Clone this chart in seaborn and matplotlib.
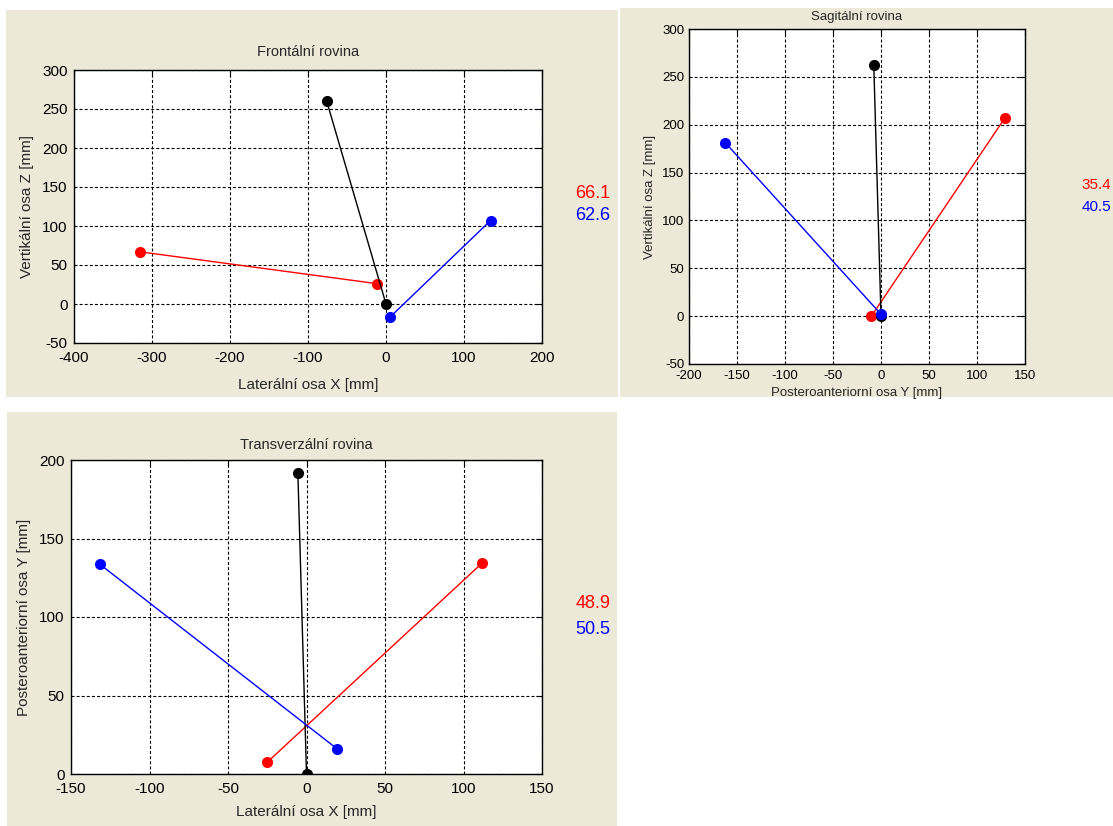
import matplotlib
matplotlib.use("Agg")
import matplotlib.pyplot as plt
from matplotlib.patches import Rectangle
import seaborn as sns
import pandas as pd

sns.set_style("white")
plt.rcParams['font.family'] = ['Liberation Sans', 'DejaVu Sans']

# ---------------- data ----------------
# Frontal plane (X vs Z)
front_red_x = [-316, -11]
front_red_z = [67, 26]
front_black_x = [-76, 0]
front_black_z = [260, 0]
front_blue_x = [5, 134]
front_blue_z = [-17, 107]
front_vals = ["66.1", "62.6"]

# Sagittal plane (Y vs Z)
sag_red_y = [129, -10]
sag_red_z = [207, 0]
sag_black_y = [-7.5, 0]
sag_black_z = [262, 0]
sag_blue_y = [-162, 0]
sag_blue_z = [181, 2]
sag_vals = ["35.4", "40.5"]

# Transverse plane (X vs Y)
trans_red_x = [112, -25]
trans_red_y = [134.5, 7.5]
trans_black_x = [-5.5, 0]
trans_black_y = [192, 0]
trans_blue_x = [-131.5, 19.5]
trans_blue_y = [133.5, 16]
trans_vals = ["48.9", "50.5"]

W, H = 1113, 826
BEIGE = "#ECE9D8"
fig = plt.figure(figsize=(W / 100, H / 100), dpi=100)
fig.patch.set_facecolor("white")


def fig_rect(x0, y0, x1, y1):
    fig.patches.append(Rectangle((x0 / W, 1 - y1 / H), (x1 - x0) / W, (y1 - y0) / H,
                                 transform=fig.transFigure, facecolor=BEIGE,
                                 edgecolor="none", zorder=-10))


def make_axes(left, top, right, bottom):
    return fig.add_axes([left / W, 1 - bottom / H, (right - left) / W, (bottom - top) / H])


fig_rect(6, 10, 618, 397)
fig_rect(620, 8, 1113, 397)
fig_rect(7, 412, 617, 826)


def draw_segment(ax, xs, ys, color, lw=1.0):
    df = pd.DataFrame({"x": xs, "y": ys})
    sns.lineplot(data=df, x="x", y="y", ax=ax, sort=False, estimator=None,
                 color=color, lw=lw, marker="o", markersize=8,
                 markeredgewidth=0, markerfacecolor=color, zorder=3)


def style_axes(ax, xlim, ylim, xticks, yticks, fs, xpad, ypad):
    ax.set_xlim(*xlim)
    ax.set_ylim(*ylim)
    ax.set_xticks(xticks)
    ax.set_yticks(yticks)
    ax.set_xticklabels([str(t) for t in xticks], fontsize=fs)
    ax.set_yticklabels([str(t) for t in yticks], fontsize=fs)
    ax.grid(True, color="black", linestyle=(0, (2.7, 1.9)), linewidth=0.8)
    ax.set_axisbelow(True)
    ax.tick_params(direction="in", length=4, width=0.8, top=True, right=True,
                   colors="black")
    ax.tick_params(axis="x", pad=xpad)
    ax.tick_params(axis="y", pad=ypad)
    for s in ax.spines.values():
        s.set_color("black")
        s.set_linewidth(1.0)
    ax.set_facecolor("white")


# -------- Panel 1: frontal --------
ax1 = make_axes(74, 70, 542, 343)
draw_segment(ax1, front_red_x, front_red_z, "#ff0000")
draw_segment(ax1, front_black_x, front_black_z, "black")
draw_segment(ax1, front_blue_x, front_blue_z, "#0000ff")
style_axes(ax1, (-400, 200), (-50, 300), list(range(-400, 201, 100)),
           list(range(-50, 301, 50)), 11, 6, 4.5)
ax1.set_title("Frontální rovina", fontsize=10.5, pad=10)
ax1.set_xlabel("Laterální osa X [mm]", fontsize=11, labelpad=9)
ax1.set_ylabel("Vertikální osa Z [mm]", fontsize=11, labelpad=6)
fig.text(593 / W, 1 - 193 / H, front_vals[0], color="#ff0000", fontsize=13,
         ha="center", va="center")
fig.text(593 / W, 1 - 215 / H, front_vals[1], color="#0000ff", fontsize=13,
         ha="center", va="center")

# -------- Panel 2: sagittal --------
ax2 = make_axes(689, 29, 1025, 364)
draw_segment(ax2, sag_red_y, sag_red_z, "#ff0000")
draw_segment(ax2, sag_black_y, sag_black_z, "black")
draw_segment(ax2, sag_blue_y, sag_blue_z, "#0000ff")
style_axes(ax2, (-200, 150), (-50, 300), list(range(-200, 151, 50)),
           list(range(-50, 301, 50)), 9.5, 4.5, 3.5)
ax2.set_title("Sagitální rovina", fontsize=9.5, pad=6.5)
ax2.set_xlabel("Posteroanteriorní osa Y [mm]", fontsize=9.5, labelpad=3.5)
ax2.set_ylabel("Vertikální osa Z [mm]", fontsize=9.5, labelpad=4)
fig.text(1096 / W, 1 - 185 / H, sag_vals[0], color="#ff0000", fontsize=11,
         ha="center", va="center")
fig.text(1096 / W, 1 - 207 / H, sag_vals[1], color="#0000ff", fontsize=11,
         ha="center", va="center")

# -------- Panel 3: transverse --------
ax3 = make_axes(71, 460, 542, 774)
draw_segment(ax3, trans_red_x, trans_red_y, "#ff0000")
draw_segment(ax3, trans_black_x, trans_black_y, "black")
draw_segment(ax3, trans_blue_x, trans_blue_y, "#0000ff")
style_axes(ax3, (-150, 150), (0, 200), list(range(-150, 151, 50)),
           list(range(0, 201, 50)), 11, 5.5, 4.5)
ax3.set_title("Transverzální rovina", fontsize=10.5, pad=8)
ax3.set_xlabel("Laterální osa X [mm]", fontsize=11, labelpad=7)
ax3.set_ylabel("Posteroanteriorní osa Y [mm]", fontsize=11, labelpad=6)
fig.text(593 / W, 1 - 604 / H, trans_vals[0], color="#ff0000", fontsize=13,
         ha="center", va="center")
fig.text(593 / W, 1 - 630 / H, trans_vals[1], color="#0000ff", fontsize=13,
         ha="center", va="center")

fig.savefig("out.png", dpi=100, facecolor="white")
